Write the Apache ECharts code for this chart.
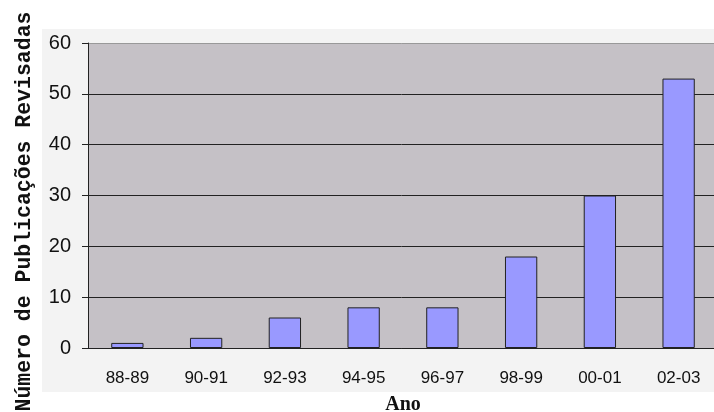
<!DOCTYPE html>
<html>
<head>
<meta charset="utf-8">
<script src="https://cdn.jsdelivr.net/npm/echarts@6/dist/echarts.min.js"></script>
<style>
  html, body { margin: 0; padding: 0; background: #fff; }
  #chart { width: 714px; height: 412px; }
</style>
</head>
<body>
<div id="chart"></div>
<script>
// dados do gráfico
var anos = ['88-89', '90-91', '92-93', '94-95', '96-97', '98-99', '00-01', '02-03'];
var publicacoes = [1, 2, 6, 8, 8, 18, 30, 53];
var yTicks = [0, 10, 20, 30, 40, 50, 60];

var myChart = echarts.init(document.getElementById('chart'));
var option = {
    animation: false,
    graphic: [{
        type: 'rect',
        z: -10,
        shape: { x: 42, y: 29, width: 672, height: 363 },
        style: { fill: '#f3f3f3' }
    }],
    grid: {
        left: 88,
        top: 43,
        right: -4,
        bottom: 64,
        outerBoundsMode: 'none',
        containLabel: false,
        show: true,
        backgroundColor: '#c5c1c6',
        borderWidth: 0
    },
    xAxis: {
        type: 'category',
        data: anos,
        name: 'Ano',
        nameLocation: 'middle',
        nameGap: 47,
        nameTextStyle: {
            fontFamily: 'Liberation Serif',
            fontWeight: 'bold',
            fontSize: 20,
            color: '#111'
        },
        axisLine: { lineStyle: { color: '#222', width: 1 } },
        axisTick: { length: 5, lineStyle: { color: '#222' } },
        axisLabel: {
            margin: 22,
            fontFamily: 'Liberation Sans',
            fontSize: 17,
            color: '#111'
        }
    },
    yAxis: {
        type: 'value',
        min: yTicks[0],
        max: yTicks[yTicks.length - 1],
        interval: 10,
        name: 'Número de Publicações Revisadas',
        nameLocation: 'middle',
        nameRotate: 90,
        nameGap: 52,
        nameTextStyle: {
            fontFamily: 'Liberation Mono',
            fontWeight: 'bold',
            fontSize: 21.5,
            color: '#111',
            padding: [0, 32, 0, 0]
        },
        axisLine: { show: true, lineStyle: { color: '#222', width: 1 } },
        axisTick: { show: true, length: 6, lineStyle: { color: '#222' } },
        axisLabel: {
            margin: 17,
            fontFamily: 'Liberation Sans',
            fontSize: 20,
            color: '#111'
        },
        splitLine: {
            lineStyle: {
                color: ['#222', '#222', '#222', '#222', '#222', '#222', '#999'],
                width: 1
            }
        }
    },
    series: [{
        type: 'bar',
        data: publicacoes,
        barWidth: '41%',
        itemStyle: {
            color: '#9999ff',
            borderColor: '#222',
            borderWidth: 1
        }
    }]
};
myChart.setOption(option);
</script>
</body>
</html>
